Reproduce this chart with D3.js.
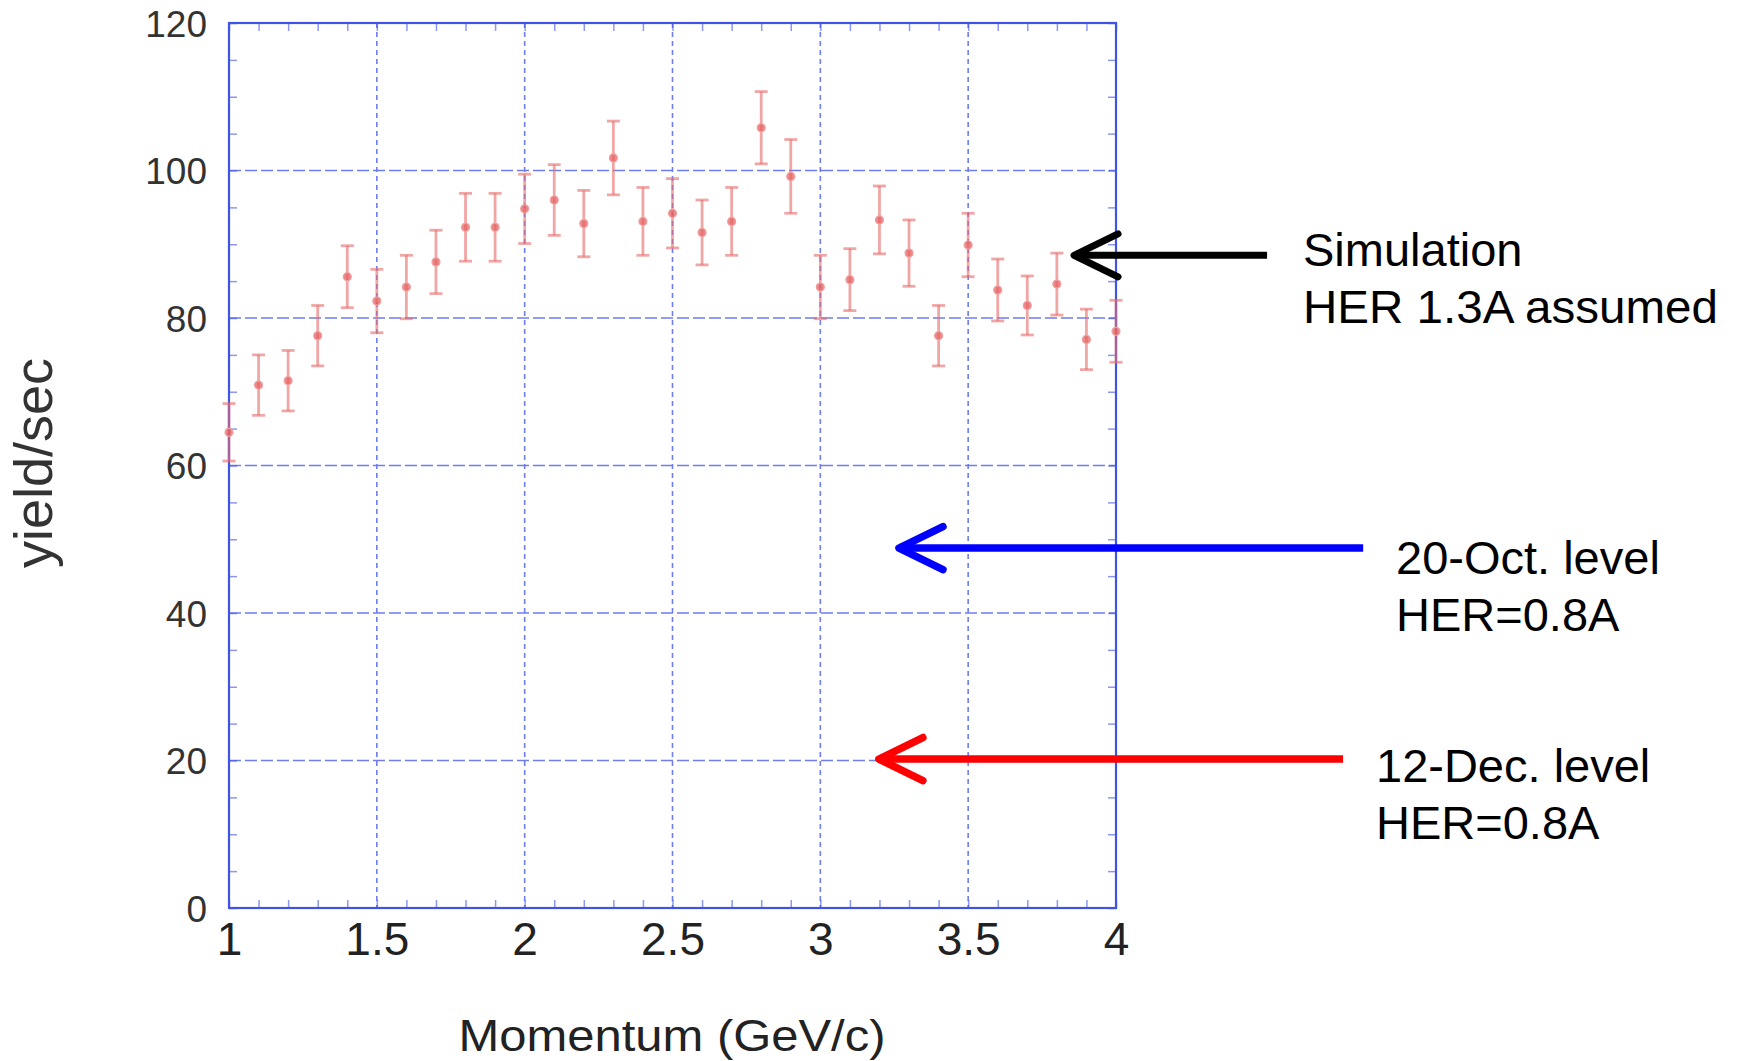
<!DOCTYPE html>
<html>
<head>
<meta charset="utf-8">
<script src="https://cdn.jsdelivr.net/npm/d3@7"></script>
<style>
  body { margin: 0; background: #fff; }
  svg { display: block; font-family: "Liberation Sans", Arial, sans-serif; }
</style>
</head>
<body>
<svg id="chart" width="1740" height="1061"></svg>
<script>
// data
const momentum = [1.0, 1.1, 1.2, 1.3, 1.4, 1.5, 1.6, 1.7, 1.8, 1.9, 2.0, 2.1, 2.2, 2.3, 2.4, 2.5,
                  2.6, 2.7, 2.8, 2.9, 3.0, 3.1, 3.2, 3.3, 3.4, 3.5, 3.6, 3.7, 3.8, 3.9, 4.0];
const yieldRate = [64.5, 70.9, 71.5, 77.6, 85.6, 82.3, 84.2, 87.6, 92.3, 92.3, 94.8, 96.0, 92.8, 101.7, 93.1, 94.2,
                   91.6, 93.1, 105.8, 99.2, 84.2, 85.2, 93.3, 88.8, 77.6, 89.9, 83.8, 81.7, 84.6, 77.1, 78.2];
const yieldErr = [3.9, 4.1, 4.1, 4.1, 4.2, 4.3, 4.3, 4.3, 4.6, 4.6, 4.7, 4.8, 4.5, 5.0, 4.6, 4.7,
                  4.4, 4.6, 4.9, 5.0, 4.3, 4.2, 4.6, 4.5, 4.1, 4.3, 4.2, 4.0, 4.2, 4.1, 4.2];

const xTicks = [1, 1.5, 2, 2.5, 3, 3.5, 4];
const xTickLabels = ["1", "1.5", "2", "2.5", "3", "3.5", "4"];
const yTicks = [0, 20, 40, 60, 80, 100, 120];
const yTickLabels = ["0", "20", "40", "60", "80", "100", "120"];

// annotation arrows (in data units) and their notes
const noteLevels = [88.5, 48.8, 20.2];
const noteTips = [3.858, 3.266, 3.198];
const noteTails = [4.511, 4.836, 4.768];
const noteColors = ["#000000", "#0000ff", "#ff0000"];
const noteLines = [["Simulation", "HER 1.3A assumed"], ["20-Oct. level", "HER=0.8A"], ["12-Dec. level", "HER=0.8A"]];

const margin = {top: 23, left: 229};
const plotW = 887, plotH = 885;

const svg = d3.select("#chart");
const g = svg.append("g").attr("transform", `translate(${margin.left},${margin.top})`);

const x = d3.scaleLinear().domain([1, 4]).range([0, plotW]);
const y = d3.scaleLinear().domain([0, 120]).range([plotH, 0]);

const gridColor = "#6f7ded";
const frameColor = "#4054e4";

// grid lines
g.append("g").selectAll("line")
    .data(xTicks.slice(1, -1))
    .join("line")
    .attr("x1", d => x(d)).attr("x2", d => x(d))
    .attr("y1", 0).attr("y2", plotH)
    .attr("stroke", gridColor).attr("stroke-width", 1.6)
    .attr("stroke-dasharray", "5,4");

g.append("g").selectAll("line")
    .data(yTicks.slice(1, -1))
    .join("line")
    .attr("x1", 0).attr("x2", plotW)
    .attr("y1", d => y(d)).attr("y2", d => y(d))
    .attr("stroke", gridColor).attr("stroke-width", 1.6)
    .attr("stroke-dasharray", "12,4");

// minor ticks, pointing inward on all four sides
function minor(axis) {
    return sel => {
        sel.call(axis.tickSize(-8).tickFormat(""));
        sel.select(".domain").remove();
        sel.selectAll(".tick line").attr("stroke", frameColor).attr("stroke-opacity", 0.6).attr("stroke-width", 1.5);
    };
}
g.append("g").attr("transform", `translate(0,${plotH})`).call(minor(d3.axisBottom(x).tickValues(x.ticks(30))));
g.append("g").call(minor(d3.axisTop(x).tickValues(x.ticks(30))));
g.append("g").call(minor(d3.axisLeft(y).tickValues(y.ticks(24))));
g.append("g").attr("transform", `translate(${plotW},0)`).call(minor(d3.axisRight(y).tickValues(y.ticks(24))));

// frame
g.append("rect")
    .attr("width", plotW).attr("height", plotH)
    .attr("fill", "none").attr("stroke", frameColor).attr("stroke-width", 2.2);

// tick labels
const yAxis = g.append("g")
    .call(d3.axisLeft(y).tickValues(yTicks).tickSize(0).tickPadding(22).tickFormat((d, i) => yTickLabels[i]));
yAxis.select(".domain").remove();
yAxis.selectAll("text")
    .attr("font-family", "Liberation Sans, Arial, sans-serif")
    .attr("font-size", 37).attr("fill", "#333").attr("dy", "0.36em");

const xAxis = g.append("g").attr("transform", `translate(0,${plotH})`)
    .call(d3.axisBottom(x).tickValues(xTicks).tickSize(0).tickPadding(14).tickFormat((d, i) => xTickLabels[i]));
xAxis.select(".domain").remove();
xAxis.selectAll("text")
    .attr("font-family", "Liberation Sans, Arial, sans-serif")
    .attr("font-size", 46).attr("fill", "#222");

// axis titles
svg.append("text")
    .attr("transform", `translate(52,${margin.top + 440}) rotate(-90)`)
    .attr("text-anchor", "middle")
    .attr("font-size", 54).attr("fill", "#333")
    .text("yield/sec");

svg.append("text")
    .attr("x", 672).attr("y", 1051)
    .attr("text-anchor", "middle")
    .attr("font-size", 44).attr("fill", "#222")
    .attr("textLength", 427).attr("lengthAdjust", "spacingAndGlyphs")
    .text("Momentum (GeV/c)");

// error bars
const pts = momentum.map((m, i) => ({m: m, v: yieldRate[i], e: yieldErr[i]}));
const barColor = "#e86a6a";
const capW = 6.5;
const eb = g.append("g").selectAll("g").data(pts).join("g")
    .attr("stroke", barColor).attr("stroke-opacity", 0.6).attr("stroke-width", 2.8);
eb.append("line")
    .attr("x1", d => x(d.m)).attr("x2", d => x(d.m))
    .attr("y1", d => y(d.v - d.e)).attr("y2", d => y(d.v + d.e));
eb.append("line")
    .attr("x1", d => x(d.m) - capW).attr("x2", d => x(d.m) + capW)
    .attr("y1", d => y(d.v + d.e)).attr("y2", d => y(d.v + d.e));
eb.append("line")
    .attr("x1", d => x(d.m) - capW).attr("x2", d => x(d.m) + capW)
    .attr("y1", d => y(d.v - d.e)).attr("y2", d => y(d.v - d.e));
eb.append("circle")
    .attr("cx", d => x(d.m)).attr("cy", d => y(d.v))
    .attr("r", 4)
    .attr("fill", "#e66060").attr("fill-opacity", 0.75)
    .attr("stroke", "#f0a0a0").attr("stroke-opacity", 1).attr("stroke-width", 1.2);

// annotation arrows
const headLen = 44, headHalf = 21.5;
const notes = noteLevels.map((lv, i) => ({lv: lv, tip: noteTips[i], tail: noteTails[i], color: noteColors[i], lines: noteLines[i]}));
const arrows = g.append("g").selectAll("g").data(notes).join("g")
    .attr("stroke", d => d.color).attr("fill", "none")
    .attr("stroke-width", (d, i) => i === 0 ? 7 : 7.5)
    .attr("stroke-linecap", "round").attr("stroke-linejoin", "round");
arrows.append("line")
    .attr("x1", d => x(d.tip) + 2).attr("x2", d => x(d.tail))
    .attr("y1", d => y(d.lv)).attr("y2", d => y(d.lv))
    .attr("stroke-linecap", "butt");
arrows.append("path")
    .attr("d", d => {
        const tx = x(d.tip), ty = y(d.lv);
        return `M${tx + headLen},${ty - headHalf}L${tx},${ty}L${tx + headLen},${ty + headHalf}`;
    });

// annotation text
const notePos = [{x: 1303, y: 266}, {x: 1396, y: 573.5}, {x: 1376, y: 782}];
const lineGap = 57;
notes.forEach((n, i) => {
    const t = svg.append("text")
        .attr("font-size", 47).attr("fill", "#000");
    n.lines.forEach((s, j) => {
        const ts = t.append("tspan")
            .attr("x", notePos[i].x).attr("y", notePos[i].y + j * lineGap)
            .text(s);
        if (i === 0 && j === 1) ts.attr("textLength", 415).attr("lengthAdjust", "spacingAndGlyphs");
    });
});
</script>
</body>
</html>
